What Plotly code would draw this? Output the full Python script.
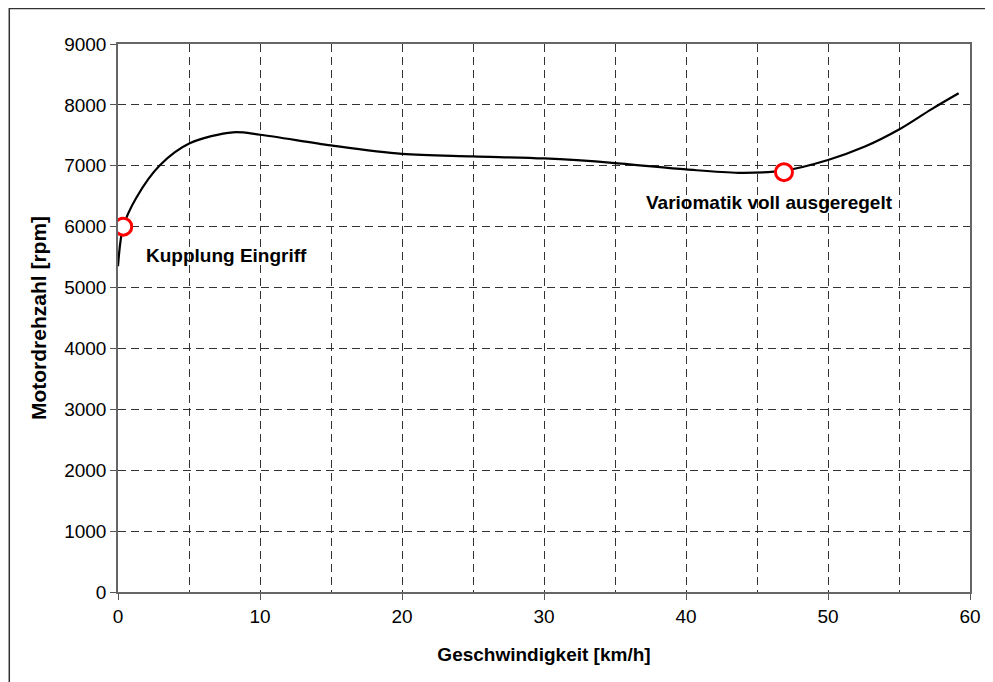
import plotly.graph_objects as go

speed = [0.0, 0.37, 1.3, 2.95, 5.05, 8.1, 10.0, 15.0, 20.0, 25.0, 30.0, 35.0, 40.0, 43.7, 46.9, 50.0, 52.6, 55.0, 57.3, 59.2]
rpm = [5350, 6000, 6480, 7010, 7370, 7550, 7510, 7335, 7195, 7155, 7120, 7045, 6940, 6885, 6920, 7095, 7315, 7595, 7930, 8190]

mark_x = [0.37, 46.9]
mark_y = [6000, 6895]
mark_labels = ["Kupplung Eingriff", "Variomatik voll ausgeregelt"]
label_x = [7.66, 45.9]
label_y = [5520, 6400]

x_ticks = [0, 10, 20, 30, 40, 50, 60]
y_ticks = [0, 1000, 2000, 3000, 4000, 5000, 6000, 7000, 8000, 9000]

FONT = "Liberation Sans, Arial"

fig = go.Figure()
fig.add_trace(go.Scatter(x=speed, y=rpm, mode="lines",
                         line=dict(color="black", width=2.2, shape="spline", smoothing=0.9, simplify=False),
                         hoverinfo="skip", showlegend=False))
fig.add_trace(go.Scatter(x=mark_x, y=mark_y, mode="markers",
                         marker=dict(symbol="circle", size=17, color="white",
                                     line=dict(color="#ff0000", width=3)),
                         showlegend=False))
for t, lx, ly in zip(mark_labels, label_x, label_y):
    fig.add_annotation(x=lx, y=ly, text="<b>" + t + "</b>", showarrow=False,
                       font=dict(family=FONT, size=19, color="black"))

fig.add_shape(type="rect", xref="paper", yref="paper",
              x0=-0.1276, x1=1.1, y0=-0.3, y1=1.0648,
              line=dict(color="#333333", width=1.5), layer="below")

fig.update_xaxes(range=[0, 60], tickvals=x_ticks, ticks="outside", ticklen=6,
                 tickcolor="#555", showline=True, linecolor="#666", linewidth=1.5, mirror=True,
                 showgrid=False, zeroline=False,
                 minor=dict(dtick=5, tick0=0, showgrid=True, gridcolor="#333",
                            griddash="8px,5px", gridwidth=1, ticks=""),
                 tickfont=dict(family=FONT, size=19, color="black"),
                 title=dict(text="<b>Geschwindigkeit [km/h]</b>", standoff=22,
                            font=dict(family=FONT, size=19, color="black")))
fig.update_yaxes(range=[0, 9000], tickvals=y_ticks, ticks="outside", ticklen=6,
                 tickcolor="#555", showline=True, linecolor="#666", linewidth=1.5, mirror=True,
                 showgrid=True, gridcolor="#333", griddash="8px,5px", gridwidth=1, zeroline=False,
                 tickfont=dict(family=FONT, size=19, color="black"),
                 title=dict(text="<b>Motordrehzahl [rpm]</b>", standoff=12,
                            font=dict(family=FONT, size=21, color="black")))

fig.update_layout(width=985, height=674, plot_bgcolor="white", paper_bgcolor="white",
                  margin=dict(l=110, r=21, t=36, b=90), showlegend=False)

fig.write_html("out.html")
